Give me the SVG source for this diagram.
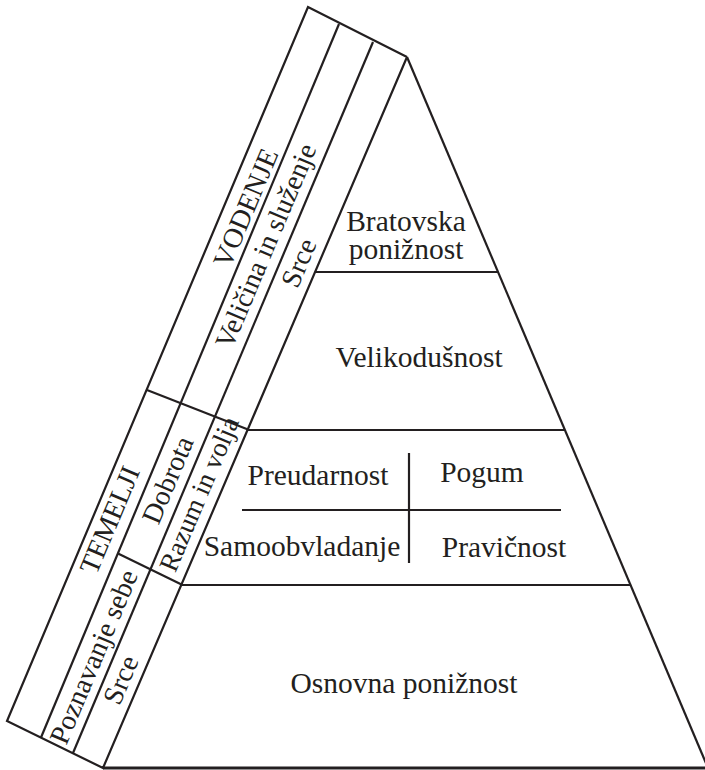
<svg xmlns="http://www.w3.org/2000/svg" width="705" height="770" viewBox="0 0 705 770">
<style>
.ln{stroke:#231f20;stroke-width:2.2;fill:none;stroke-linecap:butt;stroke-linejoin:miter}
.t{font-family:"Liberation Serif","Times New Roman",serif;font-size:29.5px;fill:#231f20;text-anchor:middle}
.r{font-family:"Liberation Serif","Times New Roman",serif;font-size:28px;fill:#231f20;text-anchor:middle}
</style>
<rect width="705" height="770" fill="#ffffff"/>
<g id="pyramid">
<polyline class="ln" points="407,57 708,768"/>
<line class="ln" x1="103" y1="768" x2="708" y2="768" style="stroke-width:2.8"/>
<line class="ln" x1="315" y1="272" x2="498" y2="272"/>
<line class="ln" x1="247.5" y1="430" x2="565" y2="430"/>
<line class="ln" x1="181" y1="585" x2="631" y2="585"/>
<line class="ln" x1="409" y1="453" x2="409" y2="563"/>
<line class="ln" x1="242" y1="510" x2="561" y2="510"/>
</g>
<g id="band">
<polyline class="ln" points="407,57 308,7 7,721 103,768 407,57"/>
<line class="ln" x1="339" y1="24" x2="41" y2="737.5"/>
<line class="ln" x1="373" y1="42" x2="73" y2="753"/>
<line class="ln" x1="147" y1="390" x2="248" y2="429.5"/>
<line class="ln" x1="118" y1="553.5" x2="181.5" y2="584.5"/>
</g>
<g id="level-bratovska"><text class="t" x="406" y="231">Bratovska</text><text class="t" x="406" y="259">ponižnost</text></g>
<g id="level-velikodusnost"><text class="t" x="419" y="367">Velikodušnost</text></g>
<g id="level-preudarnost"><text class="t" x="318" y="485">Preudarnost</text></g>
<g id="level-pogum"><text class="t" x="482" y="482">Pogum</text></g>
<g id="level-samoobvladanje"><text class="t" x="302" y="556">Samoobvladanje</text></g>
<g id="level-pravicnost"><text class="t" x="504" y="557">Pravičnost</text></g>
<g id="level-osnovna"><text class="t" x="404" y="693">Osnovna ponižnost</text></g>
<g id="vodenje"><text class="r" transform="translate(246,208) rotate(-67.1)" y="9">VODENJE</text></g>
<g id="velicina"><text class="r" transform="translate(266,246) rotate(-67.1)" y="9">Veličina in služenje</text></g>
<g id="srce-top"><text class="r" transform="translate(299,263) rotate(-67.1)" y="9">Srce</text></g>
<g id="temelji"><text class="r" transform="translate(110,520) rotate(-67.1)" y="9">TEMELJI</text></g>
<g id="dobrota"><text class="r" transform="translate(168,480) rotate(-67.1)" y="9">Dobrota</text></g>
<g id="razum"><text class="r" transform="translate(199,494) rotate(-67.1)" y="9" style="font-size:27px">Razum in volja</text></g>
<g id="poznavanje"><text class="r" transform="translate(94,657) rotate(-67.1)" y="9">Poznavanje sebe</text></g>
<g id="srce-bottom"><text class="r" transform="translate(121,680) rotate(-67.1)" y="9">Srce</text></g>
</svg>
